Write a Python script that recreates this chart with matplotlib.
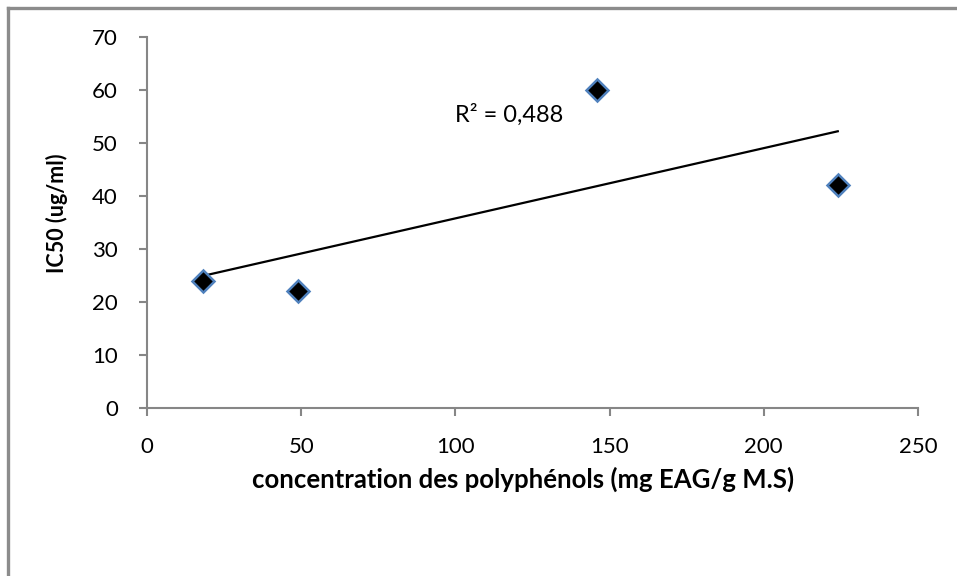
import numpy as np
import matplotlib.pyplot as plt
from matplotlib.lines import Line2D

plt.rcParams['font.family'] = ['Lato', 'DejaVu Sans']

polyphenols = [18, 49, 146, 224]
ic50 = [24, 22, 60, 42]
xticks = [0, 50, 100, 150, 200, 250]
yticks = [0, 10, 20, 30, 40, 50, 60, 70]

grey = '#868686'

fig = plt.figure(figsize=(9.57, 5.76), dpi=100)
ax = fig.add_axes([0.1536, 0.2917, 0.8056, 0.6441])

# linear trend line over the data range
x = np.array(polyphenols, dtype=float)
y = np.array(ic50, dtype=float)
slope, icpt = np.polyfit(x, y, 1)
xl = np.array([x.min(), x.max()])
ax.plot(xl, slope * xl + icpt, color='black', lw=1.6, zorder=2)

ax.plot(x, y, 'D', markersize=11, markerfacecolor='black',
        markeredgecolor='#4F81BD', markeredgewidth=1.8, zorder=3,
        clip_on=False)

ax.text(100, 54, 'R² = 0,488', fontsize=17)

ax.set_xlim(0, 250)
ax.set_ylim(0, 70)
ax.set_xticks(xticks)
ax.set_yticks(yticks)
for s in ['top', 'right']:
    ax.spines[s].set_visible(False)
for s in ['left', 'bottom']:
    ax.spines[s].set_color(grey)
    ax.spines[s].set_linewidth(1.5)
ax.tick_params(direction='out', length=6, width=1.5, color=grey,
               labelsize=16, pad=15)

ax.set_xlabel('concentration des polyphénols (mg EAG/g M.S)',
              fontsize=18.5, fontweight='bold')
ax.xaxis.set_label_coords(0.488, -0.158)
ax.set_ylabel('IC50 (ug/ml)', fontsize=15.5, fontweight='bold')
ax.yaxis.set_label_coords(-0.103, 0.525)

# outer chart border (left and top visible)
fig.add_artist(Line2D([8 / 957, 8 / 957], [0, 1 - 8 / 576],
                      color='#8c8c8c', lw=2.4, transform=fig.transFigure))
fig.add_artist(Line2D([8 / 957, 1], [1 - 8 / 576, 1 - 8 / 576],
                      color='#8c8c8c', lw=2.4, transform=fig.transFigure))

fig.savefig('out.png', dpi=100)
